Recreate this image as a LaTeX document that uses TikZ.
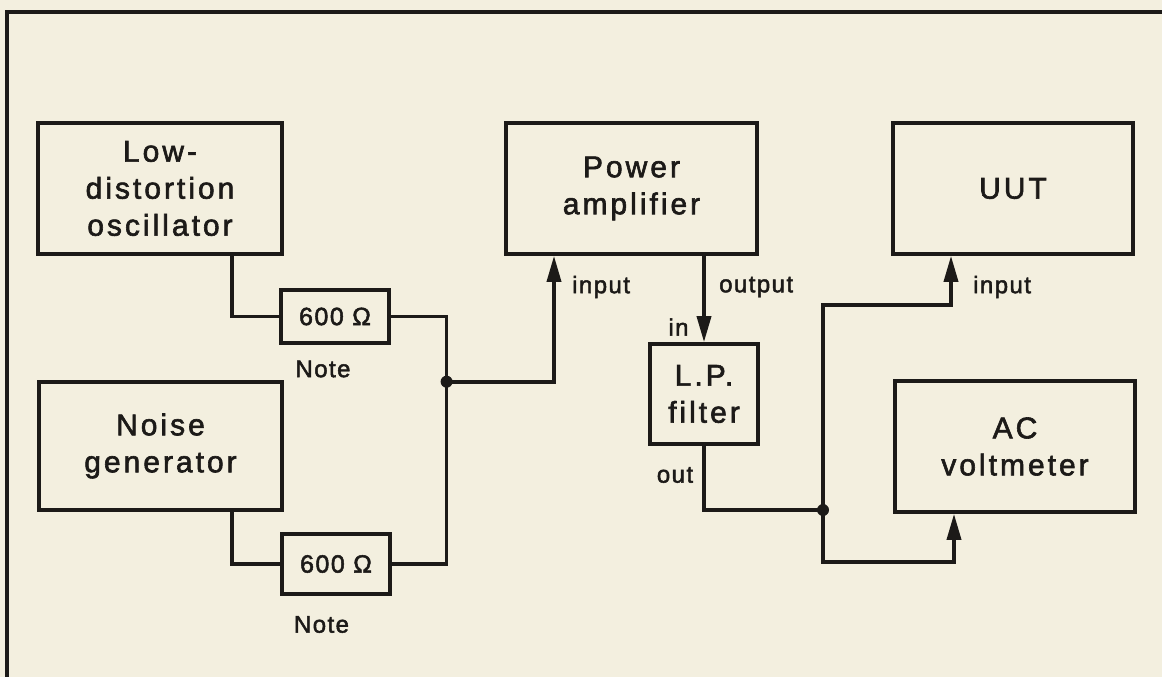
\documentclass[tikz,border=0pt]{standalone}
\usepackage{fontspec}
\setmainfont{Liberation Sans}
\newfontfamily\bigfont[LetterSpace=10,FakeBold=2]{Liberation Sans}
\newfontfamily\smallfont[LetterSpace=6,FakeBold=2]{Liberation Sans}
\usetikzlibrary{arrows.meta}
\definecolor{paper}{HTML}{F3EFDF}
\definecolor{ink}{HTML}{1C1A18}
\begin{document}
\begin{tikzpicture}[x=1pt,y=-1pt,
  box/.style={draw=ink,line width=3.6pt,inner sep=0pt,align=center,text=ink,
    font=\bigfont\fontsize{30}{37}\selectfont},
  rbox/.style={draw=ink,line width=3.6pt,inner sep=0pt,align=center,text=ink,
    minimum width=108pt,font=\smallfont\fontsize{25}{30}\selectfont},
  wire/.style={draw=ink,line width=3.6pt},
  arr/.style={wire,-{Triangle[length=26pt,width=14pt]}},
  lab/.style={inner sep=0pt,text=ink,font=\smallfont\fontsize{24}{28}\selectfont},
  dot/.style={circle,fill=ink,inner sep=0pt,minimum size=12pt}]
\fill[paper] (0,0) rectangle (1162,677);
\useasboundingbox (0,0) rectangle (1162,677);
% frame
\draw[ink,line width=3.6pt] (7,677) -- (7,12) -- (1162,12);
% boxes
\node[box,minimum width=244pt,minimum height=131pt] (osc) at (160,188.5) {Low-\\distortion\\oscillator};
\node[box,minimum width=243pt,minimum height=128pt] (noise) at (160.5,446) {Noise\\generator};
\node[box,minimum width=251pt,minimum height=131pt] (pa) at (631.5,188.5) {Power\\amplifier};
\node[box,minimum width=240pt,minimum height=131pt] (uut) at (1013,188.5) {UUT};
\node[box,minimum width=108pt,minimum height=100pt] (lp) at (704,394) {L.P.\\filter};
\node[box,minimum width=240pt,minimum height=131pt] (acv) at (1015,446.5) {AC\\voltmeter};
\node[rbox,minimum height=53pt] (r1) at (335,316.5) {600 Ω};
\node[rbox,minimum height=60pt] (r2) at (336,564) {600 Ω};
% labels
\node[lab] (note1) at (323,369) {Note};
\node[lab] (note2) at (321.5,624.5) {Note};
\node[lab,anchor=west] (painl) at (572,287) {input};
\node[lab,anchor=west] (paoutl) at (719,287) {output};
\node[lab] (inl) at (678.5,327) {in};
\node[lab] (outl) at (675,475) {out};
\node[lab,anchor=west] (uutinl) at (973,287) {input};
% junctions and bends
\node[dot] (j1) at (446.6,381.7) {};
\node[dot] (j2) at (823,510) {};
\coordinate (b1) at (823,305);
\coordinate (b2) at (823,562);
% wires
\draw[wire] ([xshift=72pt]osc.south) |- (r1.west);
\draw[wire] ([xshift=71.5pt]noise.south) |- (r2.west);
\draw[wire] (r1.east) -| (j1.center);
\draw[wire] (r2.east) -| (j1.center);
\draw[arr] (j1.center) -| ([xshift=-77.5pt]pa.south);
\draw[arr] (pa.south -| lp.north) -- (lp.north);
\draw[wire] (lp.south) |- (j2.center);
\draw[arr] (j2.center) -- (b1) -| ([xshift=-62pt]uut.south);
\draw[arr] (j2.center) -- (b2) -| ([xshift=-61pt]acv.south);
\end{tikzpicture}
\end{document}
